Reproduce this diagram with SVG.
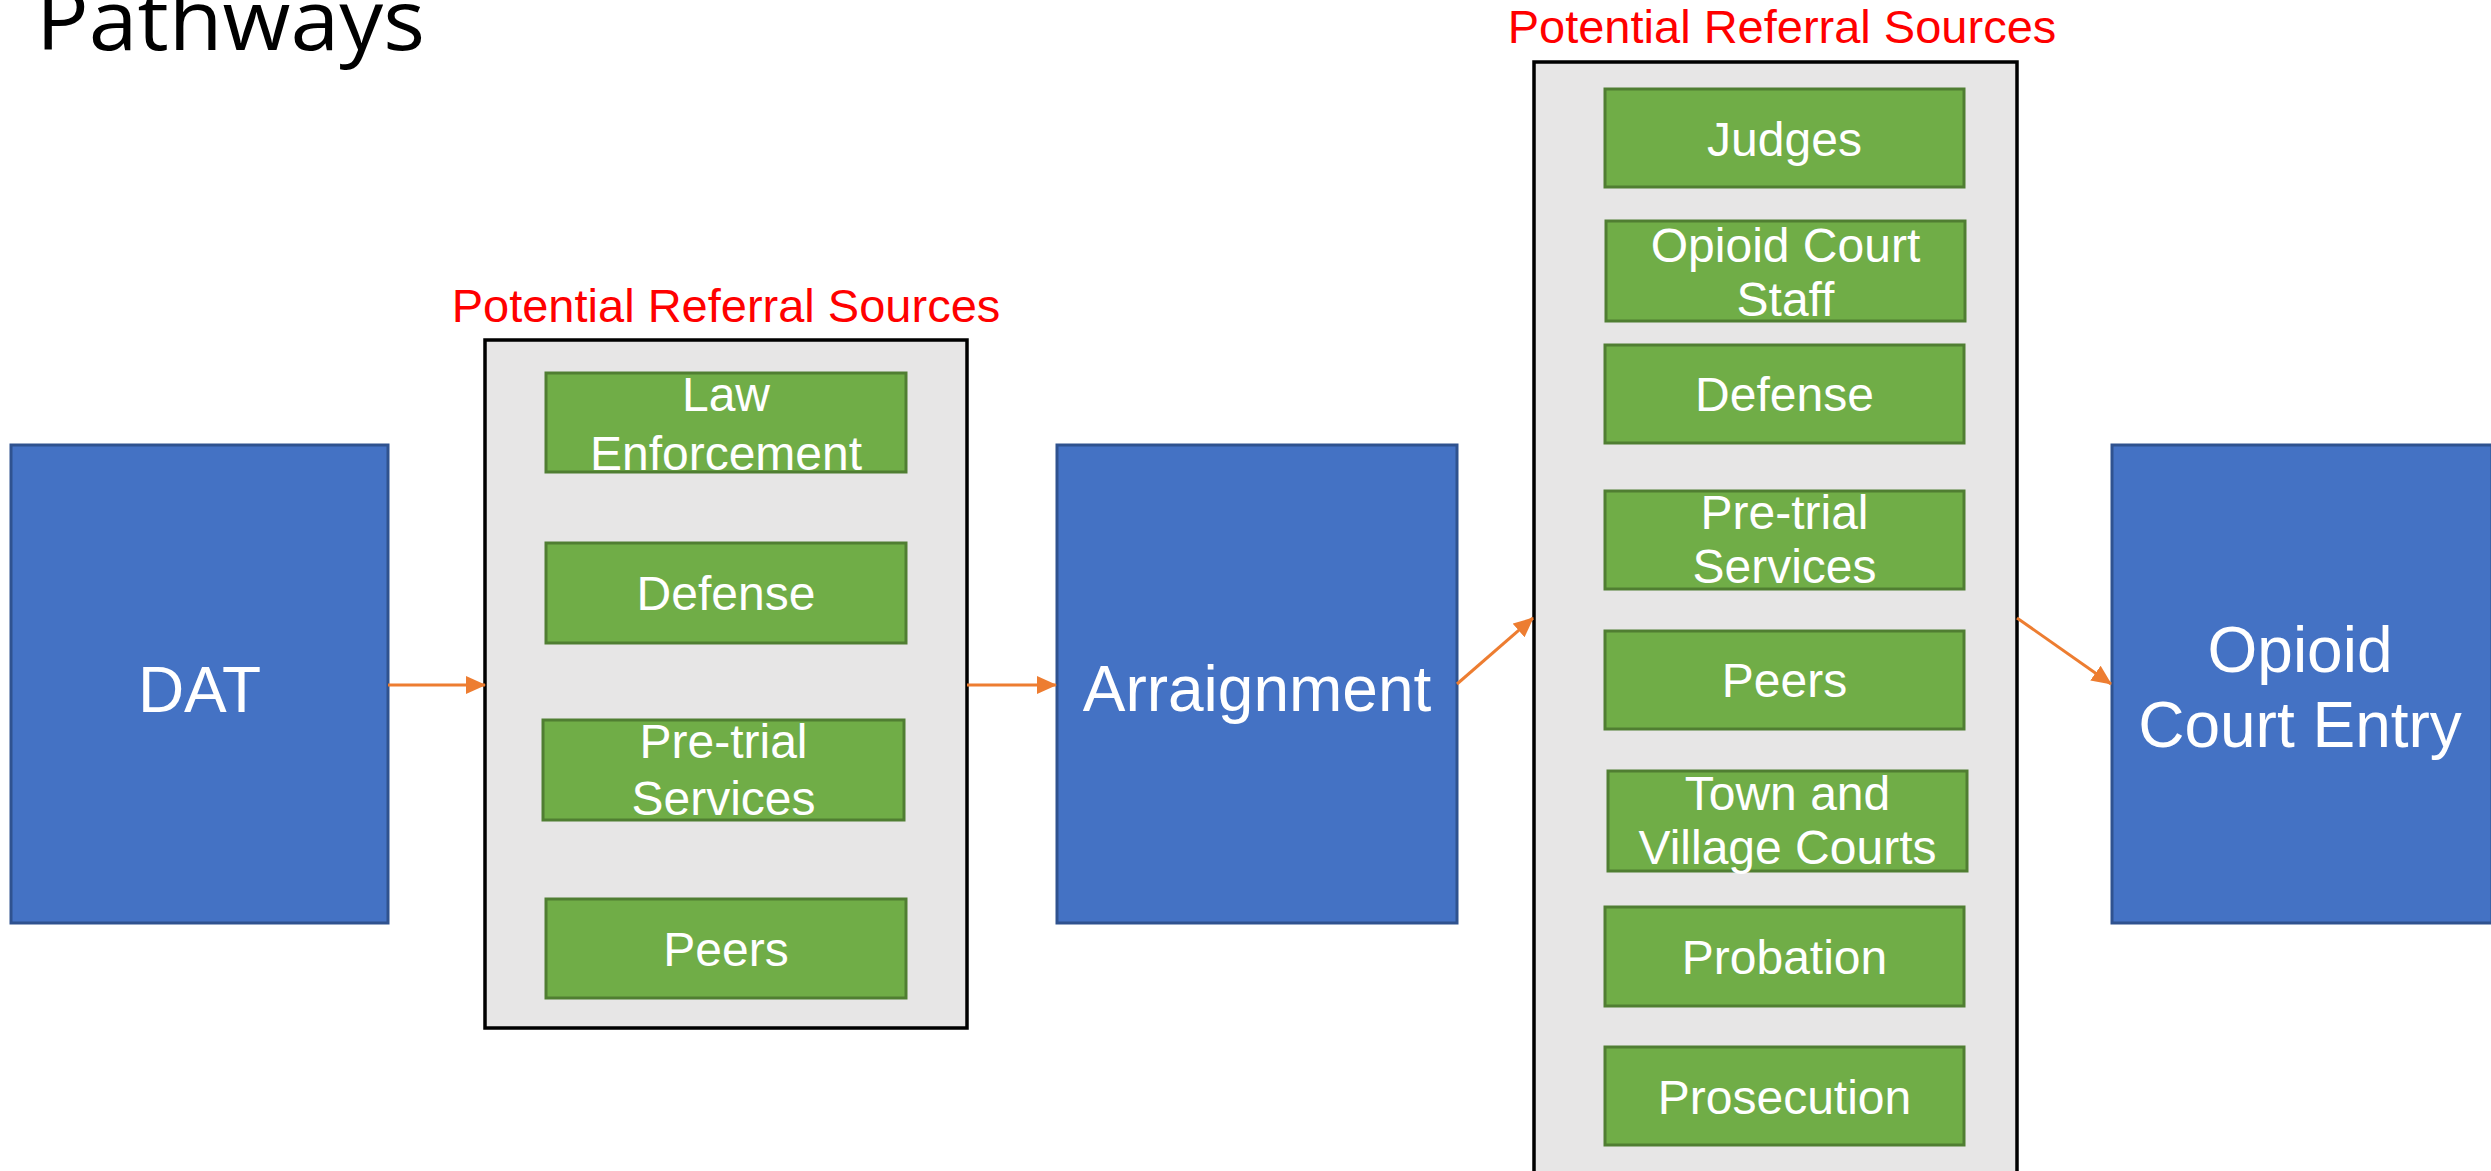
<svg xmlns="http://www.w3.org/2000/svg" width="2491" height="1171" viewBox="0 0 2491 1171">
<defs>
<style>
.blue{fill:#4472C4;stroke:#2F528F;stroke-width:3}
.green{fill:#70AD47;stroke:#507E32;stroke-width:3}
.cont{fill:#E7E6E6;stroke:#000;stroke-width:3.5}
.gt{font-family:"Liberation Sans",Arial,sans-serif;font-size:48px;fill:#fff;text-anchor:middle}
.bt{font-family:"Liberation Sans",Arial,sans-serif;font-size:64px;fill:#fff;text-anchor:middle}
.rt{font-family:"Liberation Sans",Arial,sans-serif;font-size:47px;fill:#FF0000;text-anchor:middle}
.title{font-family:"Open Sans","Noto Sans",sans-serif;font-weight:400;font-size:84px;fill:#000}
.conn{stroke:#ED7D31;stroke-width:3;fill:none;marker-end:url(#ah)}
</style>
<marker id="ah" markerUnits="userSpaceOnUse" markerWidth="20" markerHeight="18" refX="19" refY="9" orient="auto">
<path d="M0,0 L20,9 L0,18 z" fill="#ED7D31"/>
</marker>
</defs>
<rect width="2491" height="1171" fill="#fff"/>
<text class="title" x="36" y="50" textLength="389" lengthAdjust="spacingAndGlyphs">Pathways</text>

<g id="dat">
<rect class="blue" x="11" y="445" width="377" height="478"/>
<text class="bt" x="199.5" y="712">DAT</text>
</g>
<g id="arraignment">
<rect class="blue" x="1057" y="445" width="400" height="478"/>
<text class="bt" x="1257" y="711">Arraignment</text>
</g>
<g id="opioid-court-entry">
<rect class="blue" x="2112" y="445" width="380" height="478"/>
<text class="bt" x="2300" y="672">Opioid</text>
<text class="bt" x="2300" y="747">Court Entry</text>
</g>

<g id="sources-1">
<text class="rt" x="726" y="322">Potential Referral Sources</text>
<rect class="cont" x="485" y="340" width="482" height="688"/>
<g id="s1-law"><rect class="green" x="546" y="373" width="360" height="99"/>
<text class="gt" x="726" y="411">Law</text><text class="gt" x="726" y="470">Enforcement</text></g>
<g id="s1-defense"><rect class="green" x="546" y="543" width="360" height="100"/>
<text class="gt" x="726" y="610">Defense</text></g>
<g id="s1-pretrial"><rect class="green" x="543" y="720" width="361" height="100"/>
<text class="gt" x="723.5" y="758">Pre-trial</text><text class="gt" x="723.5" y="815">Services</text></g>
<g id="s1-peers"><rect class="green" x="546" y="899" width="360" height="99"/>
<text class="gt" x="726" y="966">Peers</text></g>
</g>

<g id="sources-2">
<text class="rt" x="1782" y="43">Potential Referral Sources</text>
<rect class="cont" x="1534" y="62" width="483" height="1130"/>
<g id="s2-judges"><rect class="green" x="1605" y="89" width="359" height="98"/>
<text class="gt" x="1784.5" y="156">Judges</text></g>
<g id="s2-staff"><rect class="green" x="1606" y="221" width="359" height="100"/>
<text class="gt" x="1785.5" y="262">Opioid Court</text><text class="gt" x="1785.5" y="316">Staff</text></g>
<g id="s2-defense"><rect class="green" x="1605" y="345" width="359" height="98"/>
<text class="gt" x="1784.5" y="411">Defense</text></g>
<g id="s2-pretrial"><rect class="green" x="1605" y="491" width="359" height="98"/>
<text class="gt" x="1784.5" y="529">Pre-trial</text><text class="gt" x="1784.5" y="583">Services</text></g>
<g id="s2-peers"><rect class="green" x="1605" y="631" width="359" height="98"/>
<text class="gt" x="1784.5" y="697">Peers</text></g>
<g id="s2-town"><rect class="green" x="1608" y="771" width="359" height="100"/>
<text class="gt" x="1787.5" y="810">Town and</text><text class="gt" x="1787.5" y="864">Village Courts</text></g>
<g id="s2-probation"><rect class="green" x="1605" y="907" width="359" height="99"/>
<text class="gt" x="1784.5" y="974">Probation</text></g>
<g id="s2-prosecution"><rect class="green" x="1605" y="1047" width="359" height="98"/>
<text class="gt" x="1784.5" y="1114">Prosecution</text></g>
</g>

<g id="connectors">
<line class="conn" x1="388" y1="685" x2="485" y2="685"/>
<line class="conn" x1="967" y1="685" x2="1056" y2="685"/>
<line class="conn" x1="1457" y1="684" x2="1533" y2="618"/>
<line class="conn" x1="2017" y1="618" x2="2111" y2="684"/>
</g>
</svg>
